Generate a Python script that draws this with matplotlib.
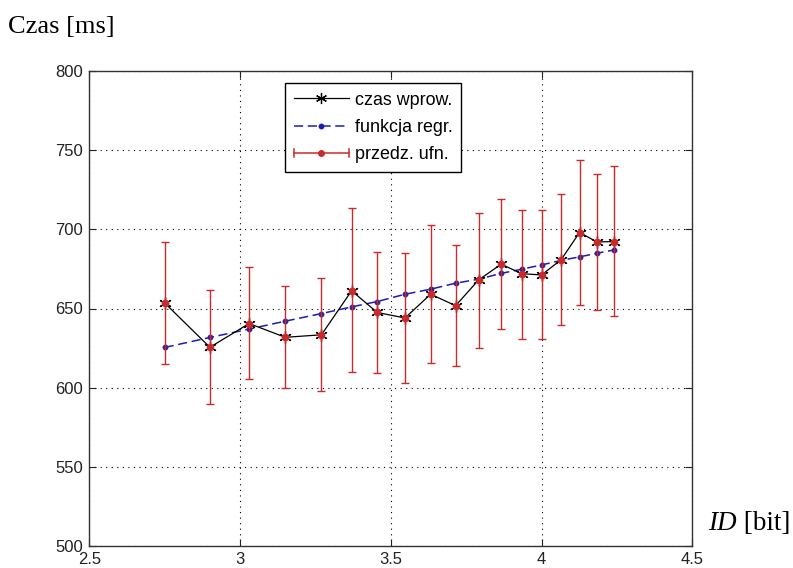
import matplotlib
matplotlib.use("Agg")
import matplotlib.pyplot as plt
from matplotlib.lines import Line2D
from matplotlib.legend_handler import HandlerBase

# ID values [bit]
id_bits = [2.75, 2.90, 3.03, 3.15, 3.27, 3.37, 3.455, 3.547, 3.632, 3.715,
           3.791, 3.866, 3.934, 4.00, 4.065, 4.126, 4.184, 4.241]
# measured input time [ms]
czas = [653.5, 625.5, 640.5, 631.8, 633.4, 661.2, 647.5, 644.0, 659.0, 651.8,
        668.0, 678.0, 672.0, 671.2, 680.8, 698.0, 692.0, 692.3]
# regression function values [ms]
regr = [625.4, 631.7, 637.0, 642.0, 646.8, 651.0, 654.4, 659.0, 662.2, 666.0,
        668.5, 672.2, 674.8, 677.5, 680.4, 682.6, 684.9, 687.0]
# confidence interval bounds [ms]
upper = [692, 661.5, 676.3, 664.3, 669.5, 713.2, 685.7, 685.3, 702.7, 690.3,
         710.5, 719.3, 712.2, 712.2, 722.5, 743.5, 734.7, 740.0]
lower = [615, 589.7, 605.4, 599.6, 597.7, 609.7, 609.0, 602.9, 615.8, 613.5,
         624.8, 637.0, 631.0, 631.0, 639.7, 652.5, 649.0, 645.0]

xticks = [2.5, 3, 3.5, 4, 4.5]
yticks = [500, 550, 600, 650, 700, 750, 800]

RED = "#cc2a2a"
BLUE = "#1c1cb4"
DOT = "#3c1e96"

fig = plt.figure(figsize=(7.93, 5.68), dpi=100)
W, H = 793, 568
L, R, T, B = 89.3, 692.3, 71, 546
ax = fig.add_axes([L / W, 1 - B / H, (R - L) / W, (B - T) / H])

err_lo = [c - lo for c, lo in zip(czas, lower)]
err_hi = [hi - c for c, hi in zip(czas, upper)]

# regression line
ax.plot(id_bits, regr, linestyle=(0, (6, 3)), color=BLUE, lw=1.1,
        marker='o', markersize=3.2, markerfacecolor=DOT, markeredgecolor=DOT,
        zorder=3)
# measured time
ax.plot(id_bits, czas, color='black', lw=0.9, marker=(6, 2, 0),
        markersize=9, markeredgewidth=0.9, zorder=4)
# confidence intervals
ax.errorbar(id_bits, czas, yerr=[err_lo, err_hi], fmt='none', ecolor=RED,
            elinewidth=1.0, capsize=3.2, capthick=1.0, zorder=5)
ax.plot(id_bits, czas, linestyle='none', marker='o', markersize=4.5,
        color=RED, zorder=6)

ax.set_xlim(2.5, 4.5)
ax.set_ylim(500, 800)
ax.set_xticks(xticks)
ax.set_xticklabels([f"{v:g}" for v in xticks])
ax.set_yticks(yticks)
ax.set_yticklabels([str(v) for v in yticks])
ax.grid(True, color='black', linestyle=(0, (1, 4)), lw=0.8)
ax.set_axisbelow(True)
ax.tick_params(direction='in', length=5, width=0.8, top=True, right=True,
               labelsize=12, colors='#222222', pad=4.5)
for lab in ax.get_xticklabels() + ax.get_yticklabels():
    lab.set_family('Liberation Sans')
for s in ax.spines.values():
    s.set_linewidth(1.0)
    s.set_color('#333333')


class HandlerCI(HandlerBase):
    def create_artists(self, legend, orig_handle, xdescent, ydescent,
                       width, height, fontsize, trans):
        y = height / 2 - ydescent
        x0, x1 = -xdescent, width - xdescent
        c = 3.0
        line = Line2D([x0, x1], [y, y], color=RED, lw=1.1, transform=trans)
        cap0 = Line2D([x0, x0], [y - c, y + c], color=RED, lw=1.1, transform=trans)
        cap1 = Line2D([x1, x1], [y - c, y + c], color=RED, lw=1.1, transform=trans)
        dot = Line2D([(x0 + x1) / 2], [y], marker='o', markersize=4,
                     color=RED, transform=trans)
        return [line, cap0, cap1, dot]


h1 = Line2D([], [], color='black', lw=0.9, marker=(6, 2, 0), markersize=8,
            markeredgewidth=0.9)
h2 = Line2D([], [], color=BLUE, lw=1.1, linestyle=(0, (6, 3)), marker='o',
            markersize=3.2, markerfacecolor=BLUE, markeredgecolor=BLUE)
h3 = object()
leg = ax.legend([h1, h2, h3], ['czas wprow.', 'funkcja regr.', 'przedz. ufn.'],
                handler_map={h3: HandlerCI()},
                loc='upper left',
                bbox_to_anchor=((285 - L) / (R - L), (B - 83) / (B - T)),
                borderaxespad=0, frameon=True, fancybox=False,
                edgecolor='black', framealpha=1,
                prop={'family': 'Liberation Sans', 'size': 12.9},
                handlelength=3.1, handletextpad=0.3, labelspacing=0.58,
                borderpad=0.48)
leg.get_frame().set_linewidth(1.0)

fig.text(8 / W, 1 - 27 / H, 'Czas [ms]', family='Liberation Serif',
         fontsize=19, ha='left', va='center')
t_id = fig.text(708 / W, 1 - 524 / H, 'ID', family='Liberation Serif',
                style='italic', fontsize=19.5, ha='left', va='center')
ax.annotate(' [bit]', xy=(1, 0), xycoords=t_id, ha='left', va='bottom',
            family='Liberation Serif', fontsize=19.5, annotation_clip=False)

fig.savefig('out.png', dpi=100)
